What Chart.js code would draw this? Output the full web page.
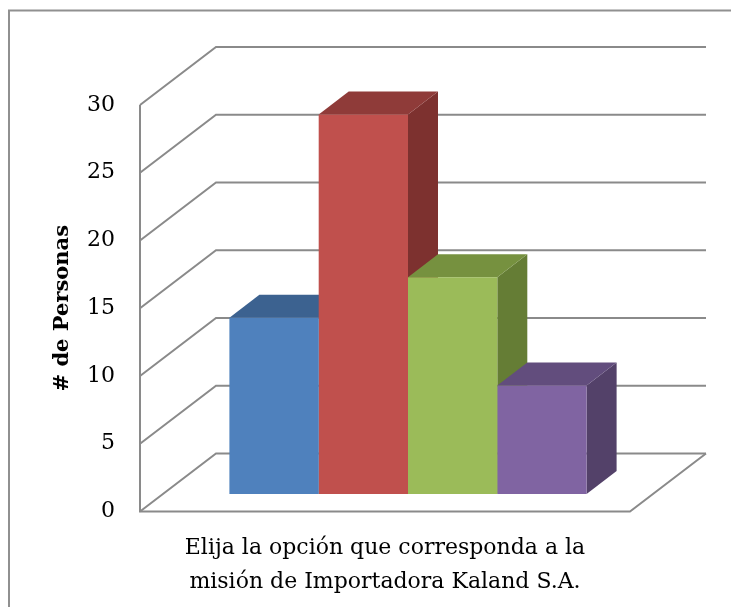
<!DOCTYPE html>
<html>
<head>
<meta charset="utf-8">
<script src="https://cdn.jsdelivr.net/npm/chart.js@4"></script>
<style>
  html, body { margin: 0; padding: 0; background: #fff; }
  canvas { display: block; }
</style>
</head>
<body>
<canvas id="grafico" width="731" height="607"></canvas>
<script>
/* ── Datos ─────────────────────────────────── */
const categorias = [['Elija la opción que corresponda a la', 'misión de Importadora Kaland S.A.']];
const series     = ['Opción 1', 'Opción 2', 'Opción 3', 'Opción 4'];
const valores    = [13, 28, 16, 8];
const ticksY     = [0, 5, 10, 15, 20, 25, 30];

/* ── Estilo ────────────────────────────────── */
const colorFrente = ['#4F81BD', '#C0504D', '#9BBB59', '#8064A2'];
const colorTapa   = ['#3C6290', '#8F3B39', '#76913F', '#624D7D'];
const colorLado   = ['#335378', '#7D312F', '#657D35', '#534169'];
const GRIS   = '#8a8a8a';
const FONDO  = { dx: 76, dy: -58 };   // pared trasera
const BARRA  = { dx: 23, dy: -17.5 }; // plano frontal de las barras
const GROSOR = { dx: 30, dy: -23 };   // profundidad de cada barra

function poligono(c, pts) {
  c.beginPath();
  c.moveTo(pts[0][0], pts[0][1]);
  pts.slice(1).forEach(p => c.lineTo(p[0], p[1]));
  c.closePath();
  c.fill();
}

// dibuja paredes, piso y caras laterales; las caras frontales las pinta Chart.js
const efecto3D = {
  id: 'efecto3D',
  beforeDraw(chart) {
    const c = chart.ctx;
    c.save();
    c.strokeStyle = '#909090';
    c.lineWidth = 2;
    c.beginPath();
    c.moveTo(9, chart.height + 5);
    c.lineTo(9, 10.5);
    c.lineTo(chart.width + 5, 10.5);
    c.stroke();
    c.restore();
  },
  beforeDatasetsDraw(chart) {
    const c = chart.ctx, a = chart.chartArea, esc = chart.scales.y;
    c.save();
    c.strokeStyle = GRIS;
    c.lineWidth = 2;
    esc.ticks.forEach(t => {
      const py = esc.getPixelForValue(t.value);
      c.beginPath();
      c.moveTo(a.left, py);
      c.lineTo(a.left + FONDO.dx, py + FONDO.dy);
      c.lineTo(a.right + FONDO.dx, py + FONDO.dy);
      c.stroke();
    });
    // eje vertical y piso
    c.beginPath();
    c.moveTo(a.left, a.top);
    c.lineTo(a.left, a.bottom);
    c.lineTo(a.right, a.bottom);
    c.lineTo(a.right + FONDO.dx, a.bottom + FONDO.dy);
    c.stroke();
    c.restore();

    c.save();
    c.translate(BARRA.dx, BARRA.dy);
    chart.data.datasets.forEach((ds, i) => {
      const bar = chart.getDatasetMeta(i).data[0];
      const { x, y, base, width } = bar.getProps(['x', 'y', 'base', 'width'], true);
      const l = x - width / 2, r = x + width / 2;
      c.fillStyle = colorLado[i];
      poligono(c, [[r, y], [r + GROSOR.dx, y + GROSOR.dy], [r + GROSOR.dx, base + GROSOR.dy], [r, base]]);
      c.fillStyle = colorTapa[i];
      poligono(c, [[l, y], [l + GROSOR.dx, y + GROSOR.dy], [r + GROSOR.dx, y + GROSOR.dy], [r, y]]);
    });
    // la traslación sigue activa mientras Chart.js dibuja las barras
  },
  afterDatasetsDraw(chart) {
    chart.ctx.restore();
  }
};

new Chart(document.getElementById('grafico'), {
  type: 'bar',
  data: {
    labels: categorias,
    datasets: series.map((nombre, i) => ({
      label: nombre,
      data: [valores[i]],
      backgroundColor: colorFrente[i],
      borderWidth: 0,
      clip: false,
    })),
  },
  options: {
    responsive: false,
    animation: false,
    events: [],
    categoryPercentage: 0.729,
    barPercentage: 1.0,
    layout: { padding: { top: 105, right: 101, bottom: 0, left: 0 } },
    plugins: {
      legend: { display: false },
      tooltip: { enabled: false },
    },
    scales: {
      x: {
        grid: { display: false, drawTicks: false },
        border: { display: false },
        ticks: {
          color: '#000',
          padding: 19.5,
          maxRotation: 0,
          autoSkip: false,
          font: { family: 'DejaVu Serif', size: 22, lineHeight: 1.545 },
        },
        afterFit: s => { s.height = 95.5; },
      },
      y: {
        min: 0,
        max: 30,
        grid: { display: false, drawTicks: false },
        border: { display: false },
        ticks: {
          color: '#000',
          padding: 25,
          font: { family: 'DejaVu Serif', size: 22 },
        },
        afterBuildTicks: s => { s.ticks = ticksY.map(v => ({ value: v })); },
        title: {
          display: true,
          text: '# de Personas',
          color: '#000',
          padding: { top: 50, bottom: 0 },
          font: { family: 'DejaVu Serif', size: 21, weight: 'bold' },
        },
        afterFit: s => { s.width = 140; },
      },
    },
  },
  plugins: [efecto3D],
});
</script>
</body>
</html>
